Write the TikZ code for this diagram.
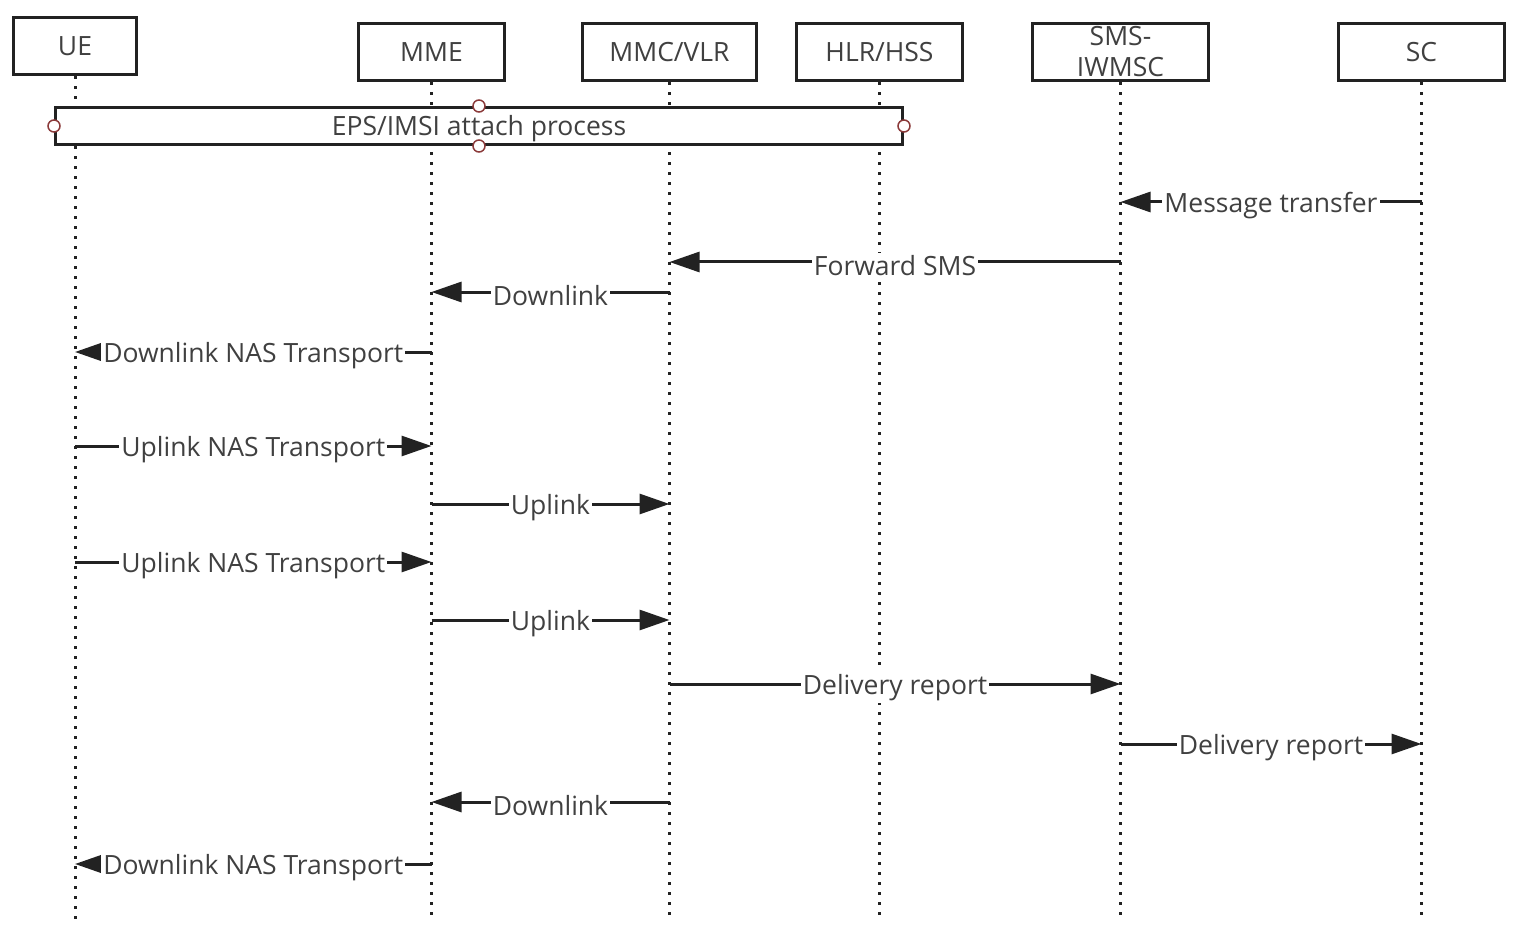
\documentclass[tikz,border=0pt]{standalone}
\usepackage{fontspec}
\setmainfont{Open Sans}
\usetikzlibrary{arrows.meta}
\definecolor{txtgray}{HTML}{404040}
\definecolor{linec}{HTML}{222222}
\definecolor{handle}{HTML}{8B3A3A}
\tikzset{
  actor/.style={draw=linec, line width=3.2pt, fill=white, minimum height=57pt, inner sep=0pt,
    text=txtgray, font=\fontsize{26.5}{31}\selectfont, align=center},
  life/.style={draw=linec, line width=3pt, dash pattern=on 3pt off 7pt},
  msg/.style={draw=linec, line width=3pt, -{Triangle[length=30pt,width=20pt]}},
  lbl/.style={fill=white, inner sep=2pt, text=txtgray, font=\fontsize{26.5}{31}\selectfont, yshift=-3.5pt},
  lblbox/.style={text=txtgray, font=\fontsize{26.5}{31}\selectfont, yshift=-3pt},
  hdl/.style={circle, draw=handle, line width=1.5pt, fill=white, minimum size=12pt, inner sep=0pt},
}
\begin{document}
\begin{tikzpicture}[x=1pt,y=-1pt]
\useasboundingbox (0,0) rectangle (1524,936);
% actors
\node[actor, minimum width=123pt] (ue)  at (75,46)    {UE};
\node[actor, minimum width=146pt] (mme) at (431.5,52) {MME};
\node[actor, minimum width=174pt] (mmc) at (669.5,52) {MMC/VLR};
\node[actor, minimum width=166pt] (hlr) at (879.5,52) {HLR/HSS};
\node[actor, minimum width=176pt] (sms) at (1120.5,52) {SMS-\\IWMSC};
\node[actor, minimum width=166pt] (sc)  at (1421.5,52) {SC};
% lifeline ends
\coordinate (ueE)  at (75,920);
\coordinate (mmeE) at (431.5,922);
\coordinate (mmcE) at (669.5,922);
\coordinate (hlrE) at (879.5,916);
\coordinate (smsE) at (1120.5,916);
\coordinate (scE)  at (1421.5,922);
\draw[life] (ue.south)  -- (ueE);
\draw[life] (mme.south) -- (mmeE);
\draw[life] (mmc.south) -- (mmcE);
\draw[life] (hlr.south) -- (hlrE);
\draw[life] (sms.south) -- (smsE);
\draw[life] (sc.south)  -- (scE);
% attach box
\node[draw=linec, line width=3pt, fill=white, minimum width=847pt, minimum height=37pt,
  inner sep=0pt] (eps) at (479,126) {};
\node[lblbox] (epst) at (eps.center) {EPS/IMSI attach process};
\node[hdl] (h1) at (eps.north) {};
\node[hdl] (h2) at (eps.south) {};
\node[hdl] (h3) at (eps.west) {};
\node[hdl] (h4) at (eps.east) {};
% message rows
\coordinate (r1) at (0,202);
\coordinate (r2) at (0,262);
\coordinate (r3) at (0,292);
\coordinate (r4) at (0,352);
\coordinate (r5) at (0,446);
\coordinate (r6) at (0,504);
\coordinate (r7) at (0,562);
\coordinate (r8) at (0,620);
\coordinate (r9) at (0,684);
\coordinate (r10) at (0,744);
\coordinate (r11) at (0,802);
\coordinate (r12) at (0,864);
\draw[msg] (sc |- r1) -- node[lbl] (l1) {Message transfer} (sms |- r1);
\draw[msg] (sms |- r2) -- node[lbl] (l2) {Forward SMS} (mmc |- r2);
\draw[msg] (mmc |- r3) -- node[lbl] (l3) {Downlink} (mme |- r3);
\draw[msg] (mme |- r4) -- node[lbl] (l4) {Downlink NAS Transport} (ue |- r4);
\draw[msg] (ue |- r5) -- node[lbl] (l5) {Uplink NAS Transport} (mme |- r5);
\draw[msg] (mme |- r6) -- node[lbl] (l6) {Uplink} (mmc |- r6);
\draw[msg] (ue |- r7) -- node[lbl] (l7) {Uplink NAS Transport} (mme |- r7);
\draw[msg] (mme |- r8) -- node[lbl] (l8) {Uplink} (mmc |- r8);
\draw[msg] (mmc |- r9) -- node[lbl] (l9) {Delivery report} (sms |- r9);
\draw[msg] (sms |- r10) -- node[lbl] (l10) {Delivery report} (sc |- r10);
\draw[msg] (mmc |- r11) -- node[lbl] (l11) {Downlink} (mme |- r11);
\draw[msg] (mme |- r12) -- node[lbl] (l12) {Downlink NAS Transport} (ue |- r12);
\end{tikzpicture}
\end{document}
